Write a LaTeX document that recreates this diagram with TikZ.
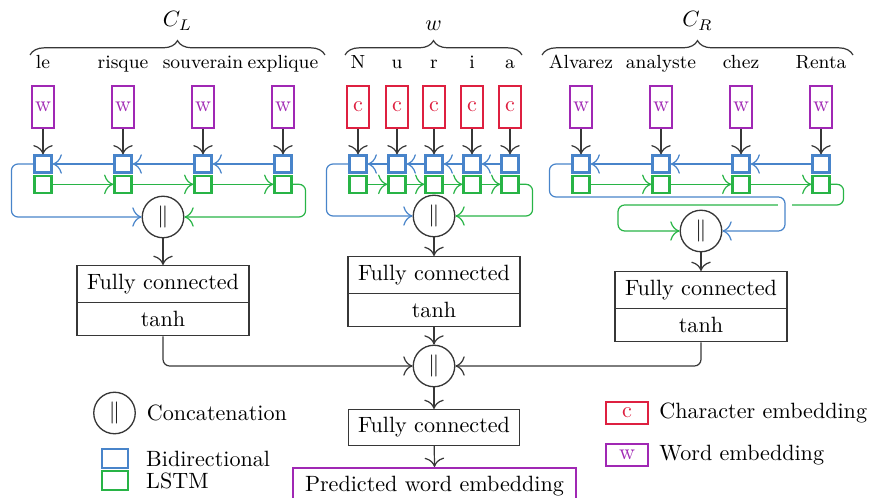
\documentclass[tikz,border=0pt]{standalone}
\usepackage{amsmath}
\usepackage{amssymb}
\usepackage{tikz}
\usetikzlibrary{positioning}
\usetikzlibrary{arrows.meta, shapes.multipart, decorations.pathreplacing}

\definecolor{wordcol}{RGB}{160,40,180}
\definecolor{charcol}{RGB}{222,32,64}
\definecolor{fwdcol}{RGB}{40,180,70}
\definecolor{bwdcol}{RGB}{72,132,202}
\definecolor{linecol}{RGB}{55,55,55}

\tikzset{
  wordbox/.style={draw=wordcol, text=wordcol, line width=0.9pt, minimum width=0.35cm, minimum height=0.67cm, inner sep=0pt},
  charbox/.style={draw=charcol, text=charcol, line width=0.9pt, minimum width=0.36cm, minimum height=0.67cm, inner sep=0pt},
  bwdcell/.style={draw=bwdcol, line width=1pt, minimum size=0.27cm, inner sep=0pt},
  fwdcell/.style={draw=fwdcol, line width=1pt, minimum size=0.27cm, inner sep=0pt},
  concat/.style={circle, draw=linecol, line width=0.6pt, minimum size=0.66cm, inner sep=0pt},
  fcbox/.style={rectangle split, rectangle split parts=2, draw=linecol, line width=0.6pt, minimum width=2.73cm, inner ysep=3.6pt},
  arr/.style={-{Computer Modern Rightarrow[scale=1.5]}, linecol, line width=0.55pt, rounded corners=3pt},
  bwdarr/.style={-{Computer Modern Rightarrow[scale=1.5]}, bwdcol, line width=0.55pt, rounded corners=3pt},
  fwdarr/.style={-{Computer Modern Rightarrow[scale=1.5]}, fwdcol, line width=0.55pt, rounded corners=3pt},
  tok/.style={font=\fontsize{8.6}{10}\selectfont, anchor=base},
  brc/.style={decorate, decoration={brace, amplitude=6.5pt}, linecol, line width=0.55pt},
}

\begin{document}
\begin{tikzpicture}[x=0.0159cm, y=-0.0159cm]
    \useasboundingbox (0,0) rectangle (873,498);

    % braces and their labels
    \draw[brc] (30,55) -- (325,55);
    \draw[brc] (345,55) -- (522,55);
    \draw[brc] (542,55) -- (853,55);
    \node[anchor=south] (lblL) at (177.5,38) {$C_L$};
    \node[anchor=south] (lblW) at (433.5,38) {$w$};
    \node[anchor=south] (lblR) at (697.5,38) {$C_R$};

    % left context words
    \foreach \x/\t in {43/le, 123/risque, 203/souverain, 283/explique}
        \node[tok] at (\x,69) {\t};
    % characters of the word
    \foreach \x/\t in {358/N, 397/u, 434/r, 472/i, 510/a}
        \node[tok] at (\x,69) {\t};
    % right context words
    \foreach \x/\t in {581/Alvarez, 661/analyste, 741/chez, 821/Renta}
        \node[tok] at (\x,69) {\t};

    % left context: embeddings and lstm cells
    \foreach \x [count=\i] in {43,123,203,283} {
        \node[wordbox] (wL\i) at (\x,107) {w};
        \node[bwdcell] (bL\i) at (\x,164) {};
        \node[fwdcell, below=0.5pt of bL\i] (gL\i) {};
        \draw[arr] (wL\i) -- (bL\i);
    }
    \foreach \i/\j in {1/2, 2/3, 3/4} {
        \draw[bwdarr] (bL\j) -- (bL\i);
        \draw[fwdarr] (gL\i) -- (gL\j);
    }

    % word: character embeddings and lstm cells
    \foreach \x [count=\i] in {358,397,434,472,510} {
        \node[charbox] (cW\i) at (\x,107) {c};
        \node[bwdcell] (bW\i) at (\x,164) {};
        \node[fwdcell, below=0.5pt of bW\i] (gW\i) {};
        \draw[arr] (cW\i) -- (bW\i);
    }
    \foreach \i/\j in {1/2, 2/3, 3/4, 4/5} {
        \draw[bwdarr] (bW\j) -- (bW\i);
        \draw[fwdarr] (gW\i) -- (gW\j);
    }

    % right context: embeddings and lstm cells
    \foreach \x [count=\i] in {581,661,741,821} {
        \node[wordbox] (wR\i) at (\x,107) {w};
        \node[bwdcell] (bR\i) at (\x,164) {};
        \node[fwdcell, below=0.5pt of bR\i] (gR\i) {};
        \draw[arr] (wR\i) -- (bR\i);
    }
    \foreach \i/\j in {1/2, 2/3, 3/4} {
        \draw[bwdarr] (bR\j) -- (bR\i);
        \draw[fwdarr] (gR\i) -- (gR\j);
    }

    % concatenations of the last states
    \node[concat] (catL) at (163,217) {$\|$};
    \node[concat] (catW) at (434,216) {$\|$};
    \node[concat] (catR) at (701,231) {$\|$};

    \draw[bwdarr] (bL1.west) -- ++(-22,0) |- (catL.west);
    \draw[fwdarr] (gL4.east) -- ++(13,0) |- (catL.east);
    \draw[bwdarr] (bW1.west) -- ++(-22,0) |- (catW.west);
    \draw[fwdarr] (gW5.east) -- ++(13,0) |- (catW.east);
    \draw[fwdarr] (gR4.east) -- ++(13,0) |- (618,205) |- (catR.west);
    \draw[white, line width=6pt] (785,199) -- (785,211);
    \draw[bwdarr] (bR1.west) -- ++(-22,0) |- (785,197) |- (catR.east);

    % fully connected layers
    \node[fcbox, anchor=north] (fcL) at (163,265) {Fully connected \nodepart{two} tanh};
    \node[fcbox, anchor=north] (fcW) at (434,256) {Fully connected \nodepart{two} tanh};
    \node[fcbox, anchor=north] (fcR) at (701,271) {Fully connected \nodepart{two} tanh};
    \draw[arr] (catL) -- (fcL.north);
    \draw[arr] (catW) -- (fcW.north);
    \draw[arr] (catR) -- (fcR.north);

    % final concatenation and output
    \node[concat] (catF) at (434,366) {$\|$};
    \draw[arr] (fcL.south) |- (catF.west);
    \draw[arr] (fcR.south) |- (catF.east);
    \draw[arr] (fcW.south) -- (catF.north);
    \node[draw=linecol, line width=0.6pt, minimum width=2.72cm, inner ysep=3.6pt, anchor=north] (fcF) at (434,409) {Fully connected};
    \draw[arr] (catF) -- (fcF.north);
    \node[draw=wordcol, line width=0.9pt, minimum width=4.5cm, inner ysep=3.6pt, anchor=north] (pred) at (434.5,467) {Predicted word embedding};
    \draw[arr] (fcF) -- (pred.north);

    % legend
    \node[concat] (lgCat) at (114.5,413) {$\|$};
    \node[right=0.05cm of lgCat] (lgCatT) {Concatenation};
    \node[draw=bwdcol, line width=1pt, minimum width=0.41cm, minimum height=0.3cm, inner sep=0pt] (lgB) at (115,458.5) {};
    \node[draw=fwdcol, line width=1pt, minimum width=0.41cm, minimum height=0.3cm, inner sep=0pt, below=0.5pt of lgB] (lgG) {};
    \node[right=0.15cm of lgB] (lgBT) {Bidirectional};
    \node[right=0.15cm of lgG] (lgGT) {LSTM};
    \node[charbox, minimum width=0.68cm, minimum height=0.35cm] (lgCh) at (627,413) {c};
    \node[right=1pt of lgCh] (lgChT) {Character embedding};
    \node[wordbox, minimum width=0.68cm, minimum height=0.35cm] (lgWd) at (627,455) {w};
    \node[right=1pt of lgWd] (lgWdT) {Word embedding};

\end{tikzpicture}
\end{document}
